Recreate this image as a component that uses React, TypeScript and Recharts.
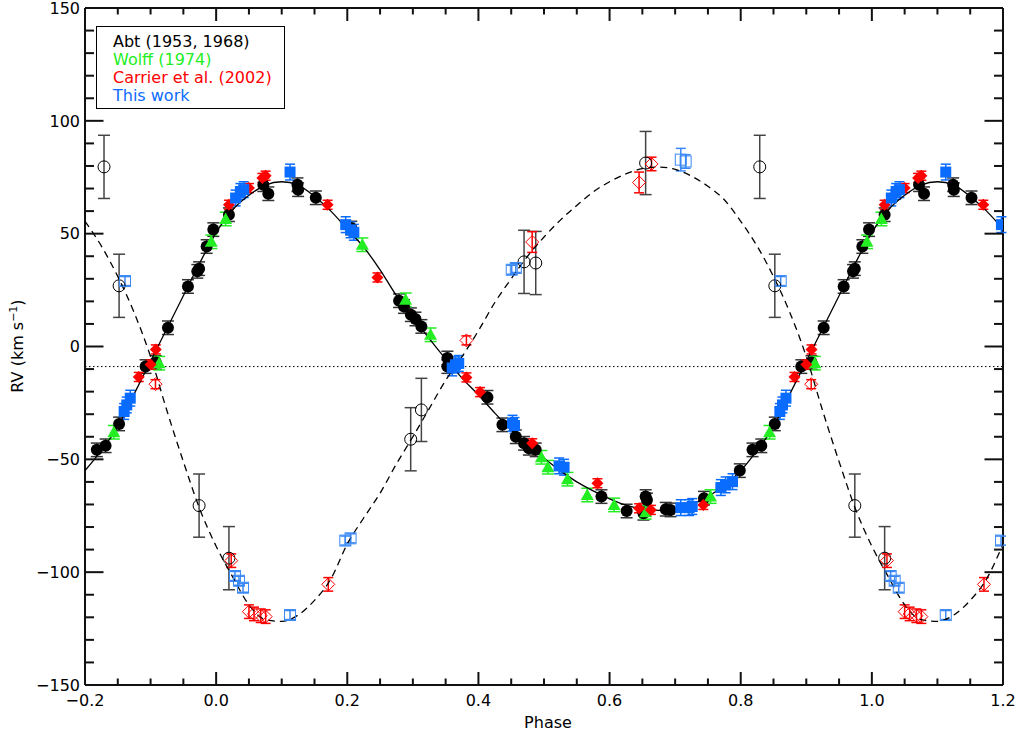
import React from "react";
import { ScatterChart, Scatter, XAxis, YAxis, ReferenceLine, ErrorBar } from "recharts";

// Abt (1953, 1968) – primary (filled circles)
const ABT_PRI_PHASE = [0.0195, 0.072, 0.0796, 0.124, 0.125, 0.152, 0.206, 0.279, 0.2865, 0.297, 0.304, 0.313, 0.3527, 0.3527, 0.4137, 0.4366, 0.457, 0.4696, 0.477, 0.4874, 0.5876, 0.626, 0.6517, 0.655, 0.657, 0.6857, 0.693, 0.744, 0.7986, 0.818, 0.8314, 0.852, 0.8924, 0.908, 0.9265, 0.957, 0.9713, 0.974, 0.9855, 0.9957];
const ABT_PRI_RV = [58.4, 71.7, 67.7, 71.7, 69.5, 65.9, 52.5, 20.3, 17.7, 14.1, 12.2, 8.9, -5.1, -8.9, -22.5, -34.7, -40.0, -42.9, -45.1, -45.8, -66.5, -72.9, -73.9, -66.5, -68.0, -72.1, -72.4, -67.2, -55.0, -45.8, -44.0, -34.3, -8.9, -7.1, 8.3, 26.6, 33.3, 34.5, 44.3, 51.8];
const ABT_PRI_ERR = 3;

// Abt – secondary (open circles)
const ABT_SEC_PHASE = [0.0195, 0.2967, 0.313, 0.4696, 0.4874, 0.655, 0.829, 0.852, 0.974];
const ABT_SEC_RV = [-93.8, -41.1, -28.1, 37.5, 37.0, 81.3, 79.6, 26.9, -70.5];
const ABT_SEC_ERR = [14, 14, 14, 14, 14, 14, 14, 14, 14];

// Wolff (1974) – primary (triangles)
const WOLFF_PHASE = [0.0145, 0.223, 0.289, 0.327, 0.496, 0.506, 0.5358, 0.566, 0.607, 0.655, 0.754, 0.844, 0.913, 0.9926];
const WOLFF_RV = [56.5, 45.1, 20.7, 5.2, -49.1, -53.5, -58.8, -65.8, -70.2, -73.5, -66.5, -38.0, -7.4, 46.4];
const WOLFF_ERR = 3;

// Carrier et al. (2002) – primary (filled diamonds)
const CARRIER_PRI_PHASE = [0.0195, 0.05, 0.0705, 0.0755, 0.17, 0.246, 0.3817, 0.4025, 0.482, 0.5815, 0.645, 0.663, 0.743, 0.882, 0.9, 0.908];
const CARRIER_PRI_RV = [62.8, 70.2, 74.7, 75.7, 62.8, 30.6, -13.7, -20.2, -42.9, -60.6, -71.7, -72.4, -70.2, -13.5, -8.0, -1.3];
const CARRIER_PRI_ERR = 2;

// Carrier – secondary (open diamonds)
const CARRIER_SEC_PHASE = [0.023, 0.05, 0.0577, 0.068, 0.0755, 0.171, 0.3817, 0.482, 0.645, 0.664, 0.9075];
const CARRIER_SEC_RV = [-94.9, -117.5, -118.5, -119.3, -119.7, -105.4, 2.7, 46.3, 72.7, 80.9, -16.7];
const CARRIER_SEC_ERR = [3, 3, 3, 3, 3, 3, 2, 4.6, 4.6, 3, 2];

// This work – primary (filled squares)
const THIS_PRI_PHASE = [0.0297, 0.037, 0.042, 0.1127, 0.1976, 0.205, 0.21, 0.36, 0.365, 0.37, 0.452, 0.455, 0.523, 0.5306, 0.7086, 0.7213, 0.726, 0.7697, 0.777, 0.7875, 0.8597, 0.8637, 0.869];
const THIS_PRI_RV = [65.8, 68.7, 69.5, 77.3, 54.0, 51.7, 50.6, -9.5, -8.1, -7.5, -34.0, -35.0, -52.9, -53.5, -71.4, -71.4, -70.9, -62.5, -61.3, -59.9, -28.8, -25.9, -22.9];
const THIS_PRI_ERR = 3.5;

// This work – secondary (open squares)
const THIS_SEC_PHASE = [0.0287, 0.0348, 0.041, 0.1127, 0.197, 0.205, 0.4508, 0.457, 0.7086, 0.716, 0.861];
const THIS_SEC_RV = [-101.7, -103.8, -106.9, -119.0, -86.0, -85.0, 34.0, 34.8, 82.8, 82.0, 29.0];
const THIS_SEC_ERR = [2, 2, 2, 2, 2, 2, 2, 2, 5, 3, 2];

// orbit fits
const FIT_PHASE = [0, 0.025, 0.05, 0.075, 0.1, 0.125, 0.15, 0.175, 0.2, 0.225, 0.25, 0.275, 0.3, 0.325, 0.35, 0.375, 0.4, 0.425, 0.45, 0.475, 0.5, 0.525, 0.55, 0.575, 0.6, 0.625, 0.65, 0.675, 0.7, 0.725, 0.75, 0.775, 0.8, 0.825, 0.85, 0.875, 0.9, 0.925, 0.95, 0.975];
const FIT_PRIMARY = [50.5, 60.5, 67, 71.5, 73, 71.5, 66.5, 60, 52, 44, 34, 22.5, 13, 3.5, -5.5, -14, -21.5, -29.5, -37, -43.5, -49.5, -55, -60, -64, -67.5, -70.3, -72, -72.6, -72, -70, -66.5, -61.5, -55, -46, -35.5, -21, -6.5, 8, 22.5, 37];
const FIT_SECONDARY = [-88.5, -102, -114.5, -121, -121.8, -119, -112.5, -103, -87.5, -76, -65, -52, -40, -27.5, -15, -4.5, 7, 19.5, 30, 40, 48.5, 56, 62.5, 68.5, 73, 76.5, 78.8, 79.5, 78.5, 75.5, 71, 65, 55.5, 44.5, 31, 15, -4.5, -28.5, -51, -72];

const GAMMA = -8.9;

const X_TICKS = [-0.2, -0.15, -0.1, -0.05, 0, 0.05, 0.1, 0.15, 0.2, 0.25, 0.3, 0.35, 0.4, 0.45, 0.5, 0.55, 0.6, 0.65, 0.7, 0.75, 0.8, 0.85, 0.9, 0.95, 1, 1.05, 1.1, 1.15, 1.2];
const Y_TICKS = [-150, -140, -130, -120, -110, -100, -90, -80, -70, -60, -50, -40, -30, -20, -10, 0, 10, 20, 30, 40, 50, 60, 70, 80, 90, 100, 110, 120, 130, 140, 150];

const LEGEND = [
  { label: "Abt (1953, 1968)", color: "#000000" },
  { label: "Wolff (1974)", color: "#22ee22" },
  { label: "Carrier et al. (2002)", color: "#ff0000" },
  { label: "This work", color: "#0a6cff" },
];

const W = 1016;
const H = 731;
const PLOT = { left: 85, right: 1003, top: 8, bottom: 685 };

const FONT = "'DejaVu Sans', sans-serif";
const GREEN = "#22ee22";
const RED = "#ff0000";
const BLUE = "#0a6cff";
const BLUE_OPEN = "#3a88f5";
const FRAME = "#111";

// phase-fold into the plotted range -0.2 .. 1.2
function fold(phase: number[], rv: number[], err: number | number[] = 0) {
  const out: { x: number; y: number; e: number }[] = [];
  phase.forEach((p, i) => {
    for (const k of [-1, 0, 1]) {
      const x = p + k;
      if (x >= -0.2 - 1e-9 && x <= 1.2 + 1e-9) {
        out.push({ x, y: rv[i], e: Array.isArray(err) ? err[i] : err });
      }
    }
  });
  return out.sort((a, b) => a.x - b.x);
}

const isMajor = (v: number, step: number) => Math.abs(v / step - Math.round(v / step)) < 1e-6;
const fmtX = (v: number) => (v < -1e-9 ? "\u2212" : "") + Math.abs(v).toFixed(1);
const fmtY = (v: number) => (v < 0 ? "\u2212" : "") + Math.abs(v);

// x ticks: drawn inward on the bottom and top edges of the frame
const XTick = (props: any) => {
  const x = Number(props.payload?.coordinate ?? props.x);
  const major = isMajor(props.payload.value, 0.2);
  const len = major ? 13 : 6.5;
  return (
    <g>
      <path d={`M${x},${PLOT.bottom}V${PLOT.bottom - len}`} stroke={FRAME} strokeWidth={2} fill="none" />
      <path d={`M${x},${PLOT.top}V${PLOT.top + len}`} stroke={FRAME} strokeWidth={2} fill="none" />
      {major && (
        <text x={x} y={PLOT.bottom + 21} textAnchor="middle" fontFamily={FONT} fontSize={16} fill="#000">
          {fmtX(props.payload.value)}
        </text>
      )}
    </g>
  );
};

// y ticks: drawn inward on the left and right edges of the frame
const YTick = (props: any) => {
  const y = Number(props.payload?.coordinate ?? props.y);
  const major = isMajor(props.payload.value, 50);
  const len = major ? 18.5 : 9;
  return (
    <g>
      <path d={`M${PLOT.left},${y}H${PLOT.left + len}`} stroke={FRAME} strokeWidth={2} fill="none" />
      <path d={`M${PLOT.right},${y}H${PLOT.right - len}`} stroke={FRAME} strokeWidth={2} fill="none" />
      {major && (
        <text x={PLOT.left - 5} y={y + 5.8} textAnchor="end" fontFamily={FONT} fontSize={16} fill="#000">
          {fmtY(props.payload.value)}
        </text>
      )}
    </g>
  );
};

const FilledCircle = ({ cx, cy }: any) => <circle cx={cx} cy={cy} r={6} fill="#000" />;
const OpenCircle = ({ cx, cy }: any) => <circle cx={cx} cy={cy} r={6} fill="none" stroke="#000" />;
const Triangle = ({ cx, cy }: any) => (
  <polygon points={`${cx},${cy - 6.5} ${cx - 6.5},${cy + 5} ${cx + 6.5},${cy + 5}`} fill={GREEN} />
);
const FilledDiamond = ({ cx, cy }: any) => (
  <polygon points={`${cx},${cy - 6} ${cx + 6},${cy} ${cx},${cy + 6} ${cx - 6},${cy}`} fill={RED} />
);
const OpenDiamond = ({ cx, cy }: any) => (
  <polygon points={`${cx},${cy - 6.5} ${cx + 6.5},${cy} ${cx},${cy + 6.5} ${cx - 6.5},${cy}`} fill="none" stroke={RED} />
);
const FilledSquare = ({ cx, cy }: any) => <rect x={cx - 5.5} y={cy - 5.5} width={11} height={11} fill={BLUE} />;
const OpenSquare = ({ cx, cy }: any) => (
  <rect x={cx - 5.5} y={cy - 5.5} width={11} height={11} fill="none" stroke={BLUE_OPEN} />
);
const NoShape = () => <g />;

export default function App() {
  const primaryFit = fold(FIT_PHASE, FIT_PRIMARY);
  const secondaryFit = fold(FIT_PHASE, FIT_SECONDARY);

  return (
    <div style={{ position: "absolute", left: 0, top: 0, width: W, height: H, background: "#fff" }}>
      <ScatterChart
        width={W}
        height={H}
        margin={{ top: PLOT.top, right: W - PLOT.right, bottom: 0, left: 0 }}
      >
        <XAxis
          type="number"
          dataKey="x"
          domain={[-0.2, 1.2]}
          allowDataOverflow
          ticks={X_TICKS}
          interval={0}
          height={H - PLOT.bottom}
          tickSize={0}
          tickMargin={0}
          tick={XTick}
          axisLine={{ stroke: FRAME, strokeWidth: 2 }}
          tickLine={false}
        />
        <YAxis
          type="number"
          dataKey="y"
          domain={[-150, 150]}
          allowDataOverflow
          ticks={Y_TICKS}
          interval={0}
          width={PLOT.left}
          tickSize={0}
          tickMargin={0}
          tick={YTick}
          axisLine={{ stroke: FRAME, strokeWidth: 2 }}
          tickLine={false}
        />
        {/* top and right edges of the frame */}
        <ReferenceLine y={150} stroke={FRAME} strokeWidth={2} />
        <ReferenceLine x={1.2} stroke={FRAME} strokeWidth={2} />
        <ReferenceLine y={GAMMA} stroke="#000" strokeDasharray="1.5 2.5" />
        <Scatter
          data={primaryFit}
          line={{ stroke: "#000", strokeWidth: 1.3 }}
          lineJointType="monotoneX"
          shape={<NoShape />}
          isAnimationActive={false}
        />
        <Scatter
          data={secondaryFit}
          line={{ stroke: "#000", strokeWidth: 1.3, strokeDasharray: "7 5" }}
          lineJointType="monotoneX"
          shape={<NoShape />}
          isAnimationActive={false}
        />
        <Scatter data={fold(ABT_SEC_PHASE, ABT_SEC_RV, ABT_SEC_ERR)} shape={<OpenCircle />} isAnimationActive={false}>
          <ErrorBar dataKey="e" direction="y" width={6} stroke="#444" strokeWidth={1.5} />
        </Scatter>
        <Scatter data={fold(THIS_SEC_PHASE, THIS_SEC_RV, THIS_SEC_ERR)} shape={<OpenSquare />} isAnimationActive={false}>
          <ErrorBar dataKey="e" direction="y" width={5} stroke={BLUE_OPEN} />
        </Scatter>
        <Scatter data={fold(CARRIER_SEC_PHASE, CARRIER_SEC_RV, CARRIER_SEC_ERR)} shape={<OpenDiamond />} isAnimationActive={false}>
          <ErrorBar dataKey="e" direction="y" width={5} stroke={RED} />
        </Scatter>
        <Scatter data={fold(ABT_PRI_PHASE, ABT_PRI_RV, ABT_PRI_ERR)} shape={<FilledCircle />} isAnimationActive={false}>
          <ErrorBar dataKey="e" direction="y" width={6} stroke="#333" strokeWidth={1.5} />
        </Scatter>
        <Scatter data={fold(WOLFF_PHASE, WOLFF_RV, WOLFF_ERR)} shape={<Triangle />} isAnimationActive={false}>
          <ErrorBar dataKey="e" direction="y" width={6} stroke={GREEN} strokeWidth={1.5} />
        </Scatter>
        <Scatter data={fold(CARRIER_PRI_PHASE, CARRIER_PRI_RV, CARRIER_PRI_ERR)} shape={<FilledDiamond />} isAnimationActive={false}>
          <ErrorBar dataKey="e" direction="y" width={5} stroke={RED} strokeWidth={1.5} />
        </Scatter>
        <Scatter data={fold(THIS_PRI_PHASE, THIS_PRI_RV, THIS_PRI_ERR)} shape={<FilledSquare />} isAnimationActive={false}>
          <ErrorBar dataKey="e" direction="y" width={5} stroke={BLUE} strokeWidth={1.5} />
        </Scatter>
      </ScatterChart>

      <svg width={W} height={H} style={{ position: "absolute", left: 0, top: 0, pointerEvents: "none" }}>
        <rect x={96.5} y={26.5} width={188} height={82} fill="#fff" stroke="#000" />
        {LEGEND.map((item, i) => (
          <text key={item.label} x={113} y={46.5 + i * 18.3} fontFamily={FONT} fontSize={16} fill={item.color}>
            {item.label}
          </text>
        ))}
        <text x={548} y={728} textAnchor="middle" fontFamily={FONT} fontSize={16} fill="#000">
          Phase
        </text>
        <text
          x={23}
          y={346}
          textAnchor="middle"
          fontFamily={FONT}
          fontSize={16}
          fill="#000"
          transform="rotate(-90 23 346)"
        >
          RV (km s<tspan dy={-6} fontSize={11}>{"\u22121"}</tspan>
          <tspan dy={6}>)</tspan>
        </text>
      </svg>
    </div>
  );
}
